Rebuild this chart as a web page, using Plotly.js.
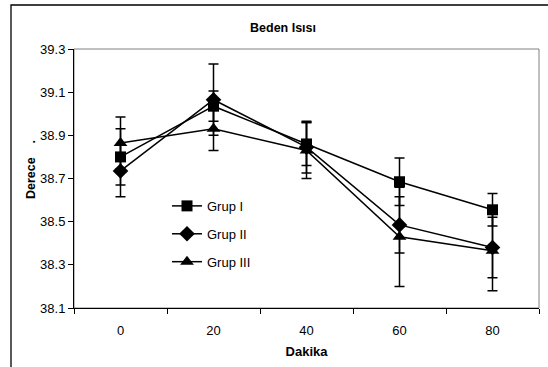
<!DOCTYPE html>
<html>
<head>
<meta charset="utf-8">
<script src="https://cdn.plot.ly/plotly-3.0.1.min.js"></script>
<style>html,body{margin:0;padding:0;background:#fff;}#chart{width:548px;height:367px;}</style>
</head>
<body>
<div id="chart"></div>
<script>
const categories = ['0', '20', '40', '60', '80'];
const grup1 = [38.80, 39.035, 38.86, 38.685, 38.555];
const grup1Err = [0.13, 0.07, 0.10, 0.11, 0.075];
const grup2 = [38.735, 39.065, 38.845, 38.485, 38.38];
const grup2Err = [0.12, 0.165, 0.12, 0.13, 0.14];
const grup3 = [38.865, 38.93, 38.83, 38.43, 38.365];
const grup3Err = [0.12, 0.10, 0.13, 0.23, 0.185];
const seriesNames = ['Grup I', 'Grup II', 'Grup III'];
const yTicks = [38.1, 38.3, 38.5, 38.7, 38.9, 39.1, 39.3];

const font = 'Arial, "Liberation Sans", sans-serif';
function mk(name, y, err, symbol, size) {
  return {
    type: 'scatter', mode: 'lines+markers', name: name, x: categories, y: y,
    legendgroup: name,
    line: {color: '#000', width: 1.5},
    marker: {symbol: symbol, size: size, color: '#000'},
    error_y: {type: 'data', array: err, visible: true, color: '#000', thickness: 1.5, width: 5}
  };
}
const data = [
  mk(seriesNames[0], grup1, grup1Err, 'square', 11),
  mk(seriesNames[1], grup2, grup2Err, 'diamond', 12),
  mk(seriesNames[2], grup3, grup3Err, 'triangle-up', 12)
];
const layout = {
  width: 548, height: 367,
  margin: {l: 74, r: 9, t: 49, b: 59},
  paper_bgcolor: '#fff', plot_bgcolor: '#fff',
  font: {family: font, size: 13, color: '#000'},
  title: {text: '<b>Beden Isısı</b>', font: {family: font, size: 12.5, color: '#000'},
          xref: 'paper', x: 0.4495, xanchor: 'center', yref: 'container', y: 1 - 28/367, yanchor: 'middle'},
  xaxis: {type: 'category', range: [-0.5, 4.5], showgrid: false, zeroline: false,
          showline: true, linecolor: '#000', linewidth: 1,
          ticks: 'outside', ticklen: 5, tickcolor: '#000', tickson: 'boundaries',
          ticklabelstandoff: 10,
          tickfont: {family: font, size: 13},
          title: {text: '<b>Dakika</b>', font: {family: font, size: 13}, standoff: 10}},
  yaxis: {range: [38.1, 39.3], tickvals: yTicks, ticktext: yTicks.map(v => v.toFixed(1)),
          showgrid: false, zeroline: false, showline: true, linecolor: '#000', linewidth: 1,
          ticks: 'outside', ticklen: 5, tickcolor: '#000',
          tickfont: {family: font, size: 13}},
  annotations: [
    {text: '<b>Derece\u00a0\u00a0\u00a0\u00a0.</b>', textangle: -90, showarrow: false,
     xref: 'paper', yref: 'paper', x: (31-74)/465, y: 1 - (170-49)/259,
     xanchor: 'center', yanchor: 'middle', font: {family: font, size: 12.5, color: '#000'}}
  ],
  showlegend: true,
  legend: {x: 0.2, y: 0.452, xanchor: 'left', yanchor: 'top', bgcolor: 'rgba(0,0,0,0)',
           traceorder: 'grouped', tracegroupgap: 8, font: {family: font, size: 13}},
  shapes: [
    {type: 'rect', xref: 'paper', yref: 'paper', x0: 0, x1: 1, y0: 0, y1: 1,
     line: {color: '#808080', width: 1}, layer: 'below'},
    {type: 'rect', xref: 'paper', yref: 'paper', x0: (11-74)/465, x1: 1.2, y0: -0.6, y1: 1 + 44/259,
     line: {color: '#000', width: 1.3}, layer: 'below'}
  ]
};
Plotly.newPlot('chart', data, layout, {displayModeBar: false, staticPlot: true});
</script>
</body>
</html>
